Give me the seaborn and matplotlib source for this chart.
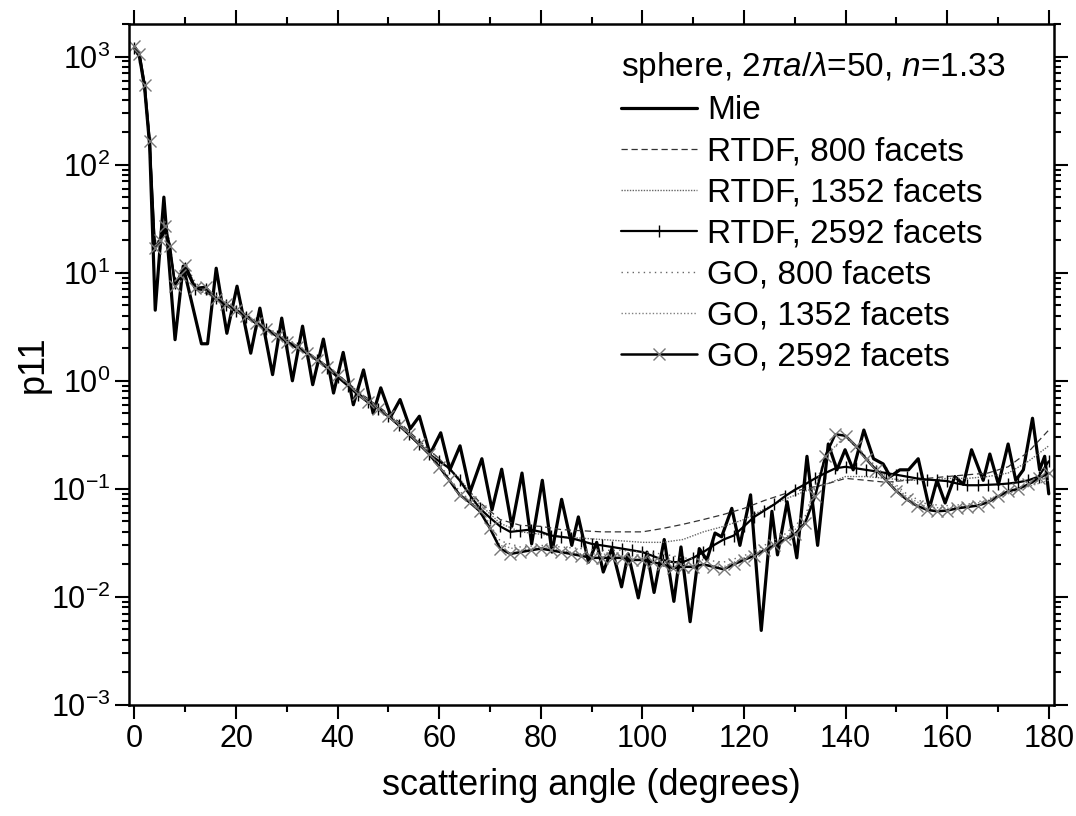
import numpy as np
import pandas as pd
import matplotlib
matplotlib.use("Agg")
import matplotlib.pyplot as plt
import seaborn as sns
from matplotlib.ticker import MultipleLocator, LogLocator, FixedLocator, NullFormatter

# Mie: angles and values read at the turning points of the curve
mie_theta = [0, 1, 2, 3, 4.1, 5.8, 8.0, 9.6, 13.2, 14.4, 16.1, 18.2, 20.2, 22.9, 24.7,
             27.2, 29.0, 31.1, 33.1, 35.1, 37.2, 39.2, 41.1, 43.1, 45.1, 47.0, 48.5,
             50.5, 52.3, 54.3, 56.1, 58.2, 60.3, 62.1, 64.1, 66.1, 68.4, 70.4, 72.3,
             74.3, 76.3, 78.2, 80.3, 82.2, 84.1, 86.1, 87.4, 89.4, 91.0, 92.3, 94.0,
             95.9, 97.2, 99.2, 100.9, 102.3, 104.3, 106.2, 107.6, 109.4, 111.2, 112.7,
             114.3, 115.6, 117.6, 119.2, 121.3, 123.4, 125.5, 126.6, 128.5, 130.4,
             132.4, 134.5, 136.6, 138.3, 139.9, 141.5, 143.6, 145.5, 147.4, 148.8,
             150.7, 152.4, 154.3, 156.5, 158.0, 159.6, 161.5, 163.2, 164.8, 167.1,
             168.4, 170.1, 172.0, 173.5, 175.0, 176.8, 178.2, 179.2, 180.0]
mie_p11 = [1200, 1000, 520, 150, 4.5, 50, 2.4, 11.5, 2.2, 2.2, 11, 2.75, 7.5, 1.8, 4.7,
           1.14, 3.8, 1.0, 3.2, 0.92, 2.43, 0.77, 1.83, 0.6, 1.26, 0.5, 0.86,
           0.47, 0.67, 0.36, 0.47, 0.21, 0.33, 0.15, 0.25, 0.094, 0.19, 0.064, 0.152,
           0.045, 0.14, 0.031, 0.12, 0.026, 0.08, 0.030, 0.055, 0.021, 0.032, 0.017, 0.028,
           0.0124, 0.025, 0.0098, 0.026, 0.011, 0.034, 0.0091, 0.029, 0.0059, 0.028, 0.022,
           0.039, 0.036, 0.066, 0.030, 0.088, 0.0049, 0.062, 0.0245, 0.076, 0.023,
           0.20, 0.030, 0.26, 0.15, 0.23, 0.15, 0.35, 0.19, 0.17, 0.13,
           0.15, 0.15, 0.19, 0.066, 0.12, 0.074, 0.13, 0.11, 0.23, 0.12,
           0.21, 0.11, 0.26, 0.12, 0.15, 0.45, 0.15, 0.2, 0.09]

# sampling grids of the facet models
theta_fine = list(range(0, 11)) + list(range(12, 181, 2))
theta_coarse = list(range(0, 11)) + list(range(12, 181, 4))

rtdf_2592 = [1200, 1000, 520, 160, 18, 19, 25, 16, 8, 9, 11,
             7.0, 7.0, 5.8, 5.0, 4.4, 3.9, 3.4, 3.0, 2.6, 2.3,
             2.0, 1.8, 1.55, 1.3, 1.08, 0.9, 0.74, 0.63, 0.55, 0.47,
             0.39, 0.32, 0.26, 0.21, 0.18, 0.155, 0.12, 0.088, 0.066, 0.054,
             0.045, 0.040, 0.041, 0.042, 0.040, 0.037, 0.036, 0.035, 0.033, 0.031,
             0.030, 0.029, 0.028, 0.027, 0.026, 0.024, 0.022, 0.021, 0.021, 0.023,
             0.026, 0.030, 0.034, 0.037, 0.045, 0.055, 0.063, 0.072, 0.085, 0.098,
             0.11, 0.125, 0.14, 0.155, 0.16, 0.155, 0.15, 0.145, 0.14, 0.135,
             0.13, 0.125, 0.122, 0.12, 0.118, 0.112, 0.108, 0.108, 0.109, 0.11,
             0.112, 0.115, 0.12, 0.13, 0.18]
go_2592 = [1250, 1050, 550, 165, 17, 20, 27, 17.5, 7.5, 9.5, 11.9,
           7.2, 7.4, 5.7, 5.1, 4.5, 4.0, 3.4, 3.0, 2.6, 2.3,
           2.05, 1.8, 1.55, 1.35, 1.12, 0.93, 0.76, 0.64, 0.55, 0.47,
           0.39, 0.32, 0.26, 0.21, 0.16, 0.12, 0.088, 0.075, 0.062, 0.043,
           0.028, 0.025, 0.026, 0.027, 0.028, 0.027, 0.026, 0.025, 0.024, 0.023,
           0.023, 0.023, 0.023, 0.022, 0.022, 0.021, 0.020, 0.0185, 0.019, 0.019,
           0.020, 0.019, 0.018, 0.020, 0.022, 0.024, 0.027, 0.030, 0.034, 0.038,
           0.048, 0.085, 0.2, 0.32, 0.31, 0.25, 0.19, 0.15, 0.12, 0.095,
           0.08, 0.07, 0.064, 0.062, 0.063, 0.066, 0.068, 0.07, 0.075, 0.085,
           0.095, 0.10, 0.11, 0.125, 0.14]

rtdf_800 = [1150, 980, 500, 150, 19, 18, 24, 15, 8.5, 9.5, 10.5,
            7.3, 5.9, 4.5, 3.5, 2.7, 2.1, 1.6, 1.15, 0.8, 0.58,
            0.42, 0.28, 0.19, 0.12, 0.075, 0.052, 0.046, 0.045, 0.042, 0.041,
            0.040, 0.040, 0.040, 0.043, 0.047, 0.052, 0.058, 0.066, 0.078, 0.09,
            0.10, 0.11, 0.125, 0.12, 0.115, 0.12, 0.125, 0.13, 0.135, 0.14,
            0.16, 0.22, 0.35]
rtdf_1352 = [1180, 990, 510, 155, 18, 18.5, 24, 16, 8, 9, 10.8,
             7.1, 5.8, 4.4, 3.4, 2.6, 2.05, 1.55, 1.1, 0.76, 0.56,
             0.4, 0.27, 0.19, 0.125, 0.072, 0.048, 0.040, 0.038, 0.036, 0.035,
             0.034, 0.033, 0.032, 0.032, 0.034, 0.040, 0.045, 0.052, 0.065, 0.08,
             0.095, 0.11, 0.13, 0.13, 0.125, 0.12, 0.12, 0.125, 0.125, 0.13,
             0.14, 0.18, 0.25]
go_800 = [1250, 1050, 560, 170, 18, 21, 30, 19, 8, 10, 12.5,
          8, 6.2, 4.8, 3.6, 2.75, 2.15, 1.6, 1.15, 0.8, 0.57,
          0.41, 0.27, 0.17, 0.095, 0.066, 0.033, 0.029, 0.030, 0.029, 0.028,
          0.027, 0.027, 0.026, 0.025, 0.023, 0.022, 0.021, 0.024, 0.03, 0.038,
          0.055, 0.2, 0.3, 0.2, 0.13, 0.09, 0.072, 0.07, 0.072, 0.08,
          0.095, 0.11, 0.13]
go_1352 = [1250, 1050, 555, 168, 17.5, 20.5, 28, 18, 7.8, 9.8, 12.2,
           7.6, 6.0, 4.6, 3.5, 2.7, 2.1, 1.58, 1.13, 0.78, 0.56,
           0.4, 0.265, 0.165, 0.09, 0.064, 0.03, 0.027, 0.029, 0.027, 0.025,
           0.025, 0.024, 0.023, 0.022, 0.02, 0.02, 0.019, 0.023, 0.028, 0.035,
           0.05, 0.2, 0.31, 0.19, 0.125, 0.085, 0.068, 0.066, 0.07, 0.078,
           0.09, 0.105, 0.12]

y_ticks = [1e-3, 1e-2, 1e-1, 1e0, 1e1, 1e2, 1e3]

sns.set_style("ticks")
plt.rcParams["font.family"] = ["Liberation Sans", "DejaVu Sans"]
plt.rcParams["mathtext.fontset"] = "custom"
plt.rcParams["mathtext.rm"] = "Liberation Sans"
plt.rcParams["mathtext.it"] = "Liberation Sans:italic"
plt.rcParams["text.color"] = "black"
plt.rcParams["axes.labelcolor"] = "black"

fig = plt.figure(figsize=(10.76, 8.16), dpi=100)
ax = fig.add_axes([0.1202, 0.136, 0.8592, 0.8346])

sns.lineplot(x=mie_theta, y=mie_p11, ax=ax, color="black", lw=2.3,
             label="Mie", estimator=None, sort=False)
sns.lineplot(x=theta_coarse, y=rtdf_800, ax=ax, color="#333333", lw=0.9,
             linestyle=(0, (5, 3)), label="RTDF, 800 facets", estimator=None)
sns.lineplot(x=theta_coarse, y=rtdf_1352, ax=ax, color="#666666", lw=1.0,
             linestyle=(0, (1, 1)), label="RTDF, 1352 facets", estimator=None)
sns.lineplot(x=theta_fine, y=rtdf_2592, ax=ax, color="black", lw=1.6,
             marker="|", markersize=9, mew=1.0, mec="black",
             label="RTDF, 2592 facets", estimator=None)
sns.lineplot(x=theta_coarse, y=go_800, ax=ax, color="#666666", lw=1.0,
             linestyle=(0, (1, 3)), label="GO, 800 facets", estimator=None)
sns.lineplot(x=theta_coarse, y=go_1352, ax=ax, color="#808080", lw=1.0,
             linestyle=(0, (1, 1.5)), label="GO, 1352 facets", estimator=None)
sns.lineplot(x=theta_fine, y=go_2592, ax=ax, color="black", lw=1.8,
             marker="x", markersize=8, mew=1.0, mec="#777777",
             label="GO, 2592 facets", estimator=None)

ax.set_yscale("log")
ax.set_xlim(-1, 181)
ax.set_ylim(1e-3, 2000)
ax.xaxis.set_major_locator(MultipleLocator(20))
ax.xaxis.set_minor_locator(MultipleLocator(10))
ax.yaxis.set_major_locator(FixedLocator(y_ticks))
ax.yaxis.set_minor_locator(LogLocator(base=10, subs=np.arange(2, 10), numticks=20))
ax.yaxis.set_minor_formatter(NullFormatter())

ax.tick_params(which="both", direction="out", top=True, right=True,
               width=1.5, labelsize=22, colors="black")
ax.tick_params(which="major", length=10)
ax.tick_params(which="minor", length=5)
for s in ax.spines.values():
    s.set_linewidth(1.8)
    s.set_color("black")

ax.set_xlabel("scattering angle (degrees)", fontsize=26, labelpad=10)
ax.set_ylabel("p11", fontsize=26, labelpad=0)

ax.legend(title=r"sphere, 2$\pi$$\it{a}$/$\it{\lambda}$=50, $\it{n}$=1.33",
          loc="upper left", bbox_to_anchor=(0.517, 0.981), frameon=False,
          fontsize=24, title_fontsize=24, handlelength=2.3, handletextpad=0.3,
          labelspacing=0.3, alignment="left", borderaxespad=0)

fig.savefig("out.png", dpi=100)
